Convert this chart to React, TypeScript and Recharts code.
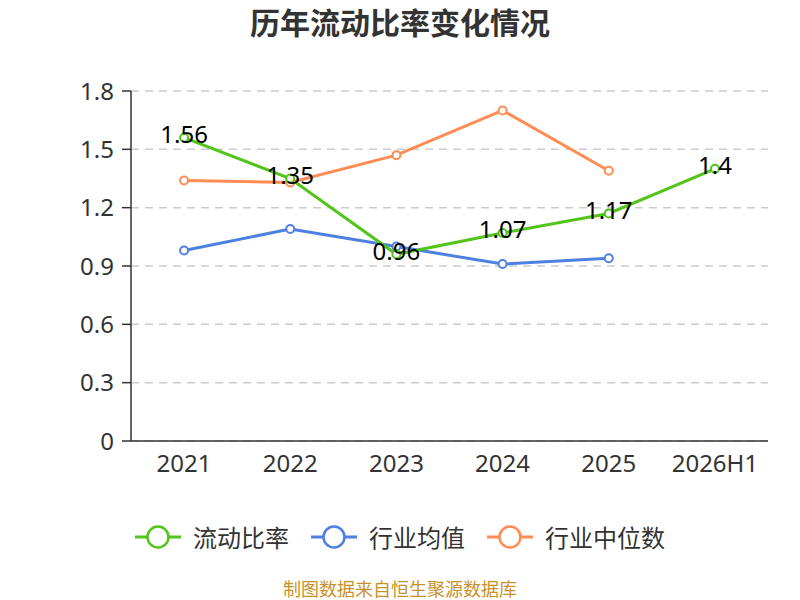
import React from "react";
import { LineChart, Line, XAxis, YAxis, CartesianGrid, LabelList } from "recharts";

const categories = ["2021", "2022", "2023", "2024", "2025", "2026H1"];
const currentRatio = [1.56, 1.35, 0.96, 1.07, 1.17, 1.4];
const industryAvg: (number | null)[] = [0.98, 1.09, 1.0, 0.91, 0.94, null];
const industryMedian: (number | null)[] = [1.34, 1.33, 1.47, 1.7, 1.39, null];
const yTicks = [0, 0.3, 0.6, 0.9, 1.2, 1.5, 1.8];

const seriesNames = ["流动比率", "行业均值", "行业中位数"];
const colors = ["#52c41a", "#4e80e2", "#ff8c55"];

const data = categories.map((c, i) => ({
  x: i + 0.5,
  name: c,
  ratio: currentRatio[i],
  avg: industryAvg[i],
  median: industryMedian[i],
}));

const boundaryTicks = categories.map((_, i) => i).concat([categories.length]);
const centerTicks = categories.map((_, i) => i + 0.5);

const FONT = "'Noto Sans', 'Noto Sans CJK SC', sans-serif";

export default function App() {
  return (
    <div style={{ position: "absolute", left: 0, top: 0, width: 800, height: 600, background: "#fff", fontFamily: FONT, overflow: "hidden" }}>
      <div
        style={{
          position: "absolute",
          left: 0,
          top: 0,
          width: 800,
          textAlign: "center",
          fontSize: 30,
          fontWeight: "bold",
          color: "#333",
          lineHeight: "42px",
          fontFamily: "'Noto Sans CJK SC', sans-serif",
        }}
      >
        历年流动比率变化情况
      </div>
      <LineChart
        width={800}
        height={600}
        data={data}
        margin={{ top: 91, right: 32, left: 61, bottom: 111 }}
        style={{ fontFamily: FONT }}
      >
        <CartesianGrid horizontal vertical={false} stroke="#cccccc" strokeDasharray="8 6" strokeWidth={1.5} />
        <XAxis
          dataKey="x"
          type="number"
          domain={[0, categories.length]}
          ticks={boundaryTicks}
          interval={0}
          tick={false}
          height={8}
          tickSize={8}
          axisLine={{ stroke: "#333", strokeWidth: 1.5 }}
          tickLine={{ stroke: "#333", strokeWidth: 1.5 }}
        />
        <XAxis
          xAxisId="labels"
          dataKey="x"
          type="number"
          domain={[0, categories.length]}
          ticks={centerTicks}
          interval={0}
          height={40}
          axisLine={false}
          tickLine={false}
          tickSize={5}
          tickMargin={1}
          tickFormatter={(v: number) => categories[Math.floor(v)]}
          tick={{ fill: "#333", fontSize: 24 }}
        />
        <YAxis
          type="number"
          domain={[0, 1.8]}
          ticks={yTicks}
          interval={0}
          width={70}
          tickSize={9}
          tickMargin={8}
          tickFormatter={(v: number) => (v === 0 ? "0" : v.toFixed(1))}
          tick={{ fill: "#333", fontSize: 24 }}
          axisLine={{ stroke: "#333", strokeWidth: 1.5 }}
          tickLine={{ stroke: "#333", strokeWidth: 1.5 }}
        />
        <Line
          dataKey="avg"
          stroke={colors[1]}
          strokeWidth={3}
          dot={{ r: 4, fill: "#fff", stroke: colors[1], strokeWidth: 2 }}
          isAnimationActive={false}
        />
        <Line
          dataKey="median"
          stroke={colors[2]}
          strokeWidth={3}
          dot={{ r: 4, fill: "#fff", stroke: colors[2], strokeWidth: 2 }}
          isAnimationActive={false}
        />
        <Line
          dataKey="ratio"
          stroke={colors[0]}
          strokeWidth={3}
          dot={{ r: 4, fill: "#fff", stroke: colors[0], strokeWidth: 2 }}
          isAnimationActive={false}
        >
          <LabelList dataKey="ratio" position="center" fill="#000" fontSize={24} dy={-3} />
        </Line>
      </LineChart>
      <div
        style={{
          position: "absolute",
          left: 0,
          top: 520,
          width: 800,
          display: "flex",
          justifyContent: "center",
          alignItems: "center",
          gap: 22,
          fontFamily: "'Noto Sans CJK SC', sans-serif",
          fontSize: 24,
          color: "#333",
          lineHeight: "34px",
        }}
      >
        {seriesNames.map((n, i) => (
          <div key={n} style={{ display: "flex", alignItems: "center" }}>
            <svg width={46} height={26} style={{ marginRight: 12 }}>
              <line x1={0} y1={13} x2={46} y2={13} stroke={colors[i]} strokeWidth={3} />
              <circle cx={23} cy={13} r={10.5} fill="#fff" stroke={colors[i]} strokeWidth={2.5} />
            </svg>
            <span>{n}</span>
          </div>
        ))}
      </div>
      <div
        style={{
          position: "absolute",
          left: 0,
          top: 577,
          width: 800,
          height: 22,
          textAlign: "center",
          fontSize: 18,
          color: "#c8922a",
          lineHeight: "22px",
          fontFamily: "'Noto Sans CJK SC', sans-serif",
        }}
      >
        制图数据来自恒生聚源数据库
      </div>
    </div>
  );
}
